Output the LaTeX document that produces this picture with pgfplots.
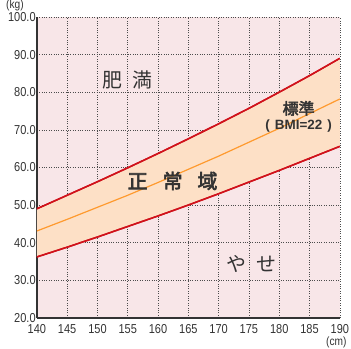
\documentclass[border=0pt]{standalone}
\usepackage{pgfplots}
\pgfplotsset{compat=1.18}
\usepgfplotslibrary{fillbetween}
\usepackage{fontspec}
\setmainfont{Liberation Sans}
\newfontfamily\tickf{Liberation Sans}[FakeStretch=0.85]
\newfontfamily\jp{Noto Sans CJK JP}
\newfontfamily\jpb{Noto Sans CJK JP}[FakeBold=3]
\definecolor{bgpink}{HTML}{F8E6E8}
\definecolor{band}{HTML}{FDE0C6}
\definecolor{redl}{HTML}{D0121B}
\definecolor{orl}{HTML}{FF9A2E}
\definecolor{txt}{HTML}{333333}
\begin{document}
\begin{tikzpicture}
\begin{axis}[
  scale only axis, width=304pt, height=302pt,
  xmin=140, xmax=190, ymin=20, ymax=100,
  xtick={140,145,...,190}, ytick={20,30,...,100},
  axis x line*=bottom, axis y line*=left,
  axis line style={line width=1.3pt, color=txt, -},
  major tick length=0pt,
  grid=major,
  major grid style={color=black!70, line width=0.6pt, dash pattern=on 0.8pt off 1.6pt},
  axis background/.style={fill=bgpink},
  tick label style={font=\tickf\fontsize{13}{14}\selectfont, text=txt},
  /pgf/number format/assume math mode=true,
  yticklabel style={inner sep=1pt},
  xticklabel style={inner sep=2pt, yshift=-4.5pt},
  xticklabel={\pgfmathprintnumber[fixed,precision=0]{\tick}},
  yticklabel={\pgfmathprintnumber[fixed,fixed zerofill,precision=1]{\tick}},
  clip=true,
]
\addplot[name path=upper, redl, line width=1.5pt] coordinates {
(140,49.0) (145,52.6) (150,56.2) (155,59.9) (160,63.7) (165,67.6) (170,71.6) (175,75.7) (180,80.0) (185,84.4) (190,89.0)};
\addplot[name path=lower, redl, line width=1.5pt] coordinates {
(140,36.2) (145,38.8) (150,41.5) (155,44.3) (160,47.1) (165,50.0) (170,53.0) (175,56.1) (180,59.2) (185,62.4) (190,65.6)};
\addplot[band] fill between[of=upper and lower];
\addplot[orl, line width=1.2pt] coordinates {
(140,43.1) (145,46.2) (150,49.4) (155,52.6) (160,56.0) (165,59.5) (170,63.0) (175,66.7) (180,70.4) (185,74.3) (190,78.2)};
\addplot[redl, line width=1.5pt] coordinates {
(140,49.0) (145,52.6) (150,56.2) (155,59.9) (160,63.7) (165,67.6) (170,71.6) (175,75.7) (180,80.0) (185,84.4) (190,89.0)};
\addplot[redl, line width=1.5pt] coordinates {
(140,36.2) (145,38.8) (150,41.5) (155,44.3) (160,47.1) (165,50.0) (170,53.0) (175,56.1) (180,59.2) (185,62.4) (190,65.6)};
\node[text=txt, font=\jp\fontsize{20}{22}\selectfont, inner sep=0pt] at (axis cs:155.0,83.3) {肥\hspace{10pt}満};
\node[text=txt, font=\jpb\fontsize{20}{22}\selectfont, inner sep=0pt] at (axis cs:162.4,56.4) {正\hspace{15pt}常\hspace{15pt}域};
\node[text=txt, font=\jpb\fontsize{16}{18}\selectfont, inner sep=0pt] at (axis cs:183.2,75.7) {標準};
\node[text=txt, font=\bfseries\fontsize{13.5}{15}\selectfont, inner sep=0pt] at (axis cs:183.2,71.0) {(\hspace{5pt}BMI=22\hspace{5pt})};
\node[text=txt, font=\jp\fontsize{20}{22}\selectfont, inner sep=0pt] at (axis cs:175.4,34.4) {や\hspace{10pt}せ};
\end{axis}
\node[text=txt, font=\tickf\fontsize{12}{13}\selectfont, anchor=north, inner sep=0pt] at (-22pt,319pt) {(kg)};
\path (-37pt,-31pt) rectangle (314pt,319pt);
\node[text=txt, font=\tickf\fontsize{12}{13}\selectfont, anchor=north, inner sep=0pt] at (300.5pt,-18.5pt) {(cm)};
\end{tikzpicture}
\end{document}
